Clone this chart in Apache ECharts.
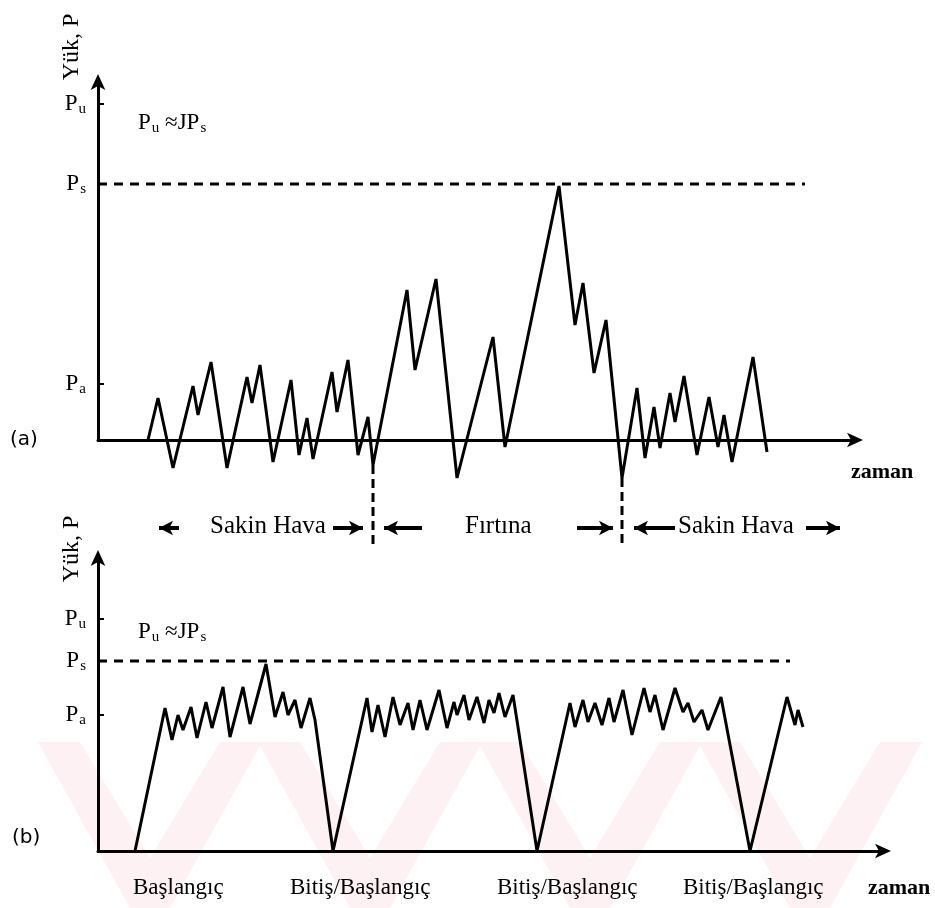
<!DOCTYPE html>
<html><head><meta charset="utf-8">
<script src="https://cdn.jsdelivr.net/npm/echarts@6/dist/echarts.min.js"></script>
<style>html,body{margin:0;padding:0;background:#fff}#c{width:935px;height:908px}</style>
</head><body><div id="c"></div>
<script>
// ---- Panel (a): load history (time, load) in figure units (origin at axes crossing)
const aTime = [50,60,75,95,100,113,129,149,154,162,175,193,201,209,215,234,239,250,260,270,275,309,317,338,359,395,407,461,477,485,496,508,524,539,547,556,562,572,577,586,599,611,620,626,634,655,669];
const aLoad = [0,42,-28,54,25,78,-28,63,37,75,-22,60,-15,22,-19,68,28,80,-15,23,-25,150,70,161,-38,103,-7,254,115,157,67,120,-38,52,-18,33,-8,47,18,64,-15,43,-7,25,-22,83,-12];
// ---- Panel (b): load history
const bTime = [37,67,74,80,85,93,99,108,114,125,132,145,152,168,177,185,190,197,203,212,217,235,269,274,280,287,295,302,310,315,322,329,341,349,356,359,366,371,379,386,391,396,401,407,415,420,439,472,477,485,490,497,504,511,516,525,534,546,552,557,565,577,585,590,596,604,610,623,652,689,697,700,705];
const bLoad = [0,143,111,136,121,144,113,149,123,164,114,164,127,187,134,159,136,151,123,153,131,0,153,119,146,114,154,126,148,121,151,121,161,123,149,136,156,131,154,128,151,138,158,134,156,124,0,148,124,151,129,148,126,153,129,161,116,163,139,156,121,163,139,148,129,141,121,154,0,154,126,141,124];
// ---- Reference levels (P_u, P_s, P_a) for each panel
const aLevels = {Pu: 336, Ps: 256, Pa: 56};
const bLevels = {Pu: 232, Ps: 190, Pa: 136};
// dashed Ps line extent (time)
const aPsEnd = 707, bPsEnd = 692;
// storm boundaries in panel (a): [time, load at trough]
const aBounds = [[275,-25],[524,-38]];
// period annotation arrows in panel (a): [tail, tip]
const aPeriodArrows = [[81,55],[235,271],[324,280],[479,521],[577,530],[708,748]];
const aPeriodLabels = ['Sakin Hava','Fırtına','Sakin Hava'];
const bEventLabels = ['Başlangıç','Bitiş/Başlangıç','Bitiş/Başlangıç','Bitiş/Başlangıç'];

const zip = (x, y) => x.map((v, i) => [v, y[i]]);
const SERIF = '"Liberation Serif","Times New Roman",serif';

function levelFormatter(levels) {
  return function (v) {
    if (v === levels.Pu) return '{p|P}{s|u}';
    if (v === levels.Ps) return '{p|P}{s|s}';
    if (v === levels.Pa) return '{p|P}{s|a}';
    return '';
  };
}
const richP = {
  p: {fontFamily: SERIF, fontSize: 23, color: '#000'},
  s: {fontFamily: SERIF, fontSize: 15, color: '#000', padding: [10, 0, 0, 1]}
};

const axisLine = {show: true, onZero: false, symbol: ['none', 'arrow'], symbolSize: [11, 16], symbolOffset: [0, 6], lineStyle: {color: '#000', width: 3}};

function xAx(idx, max) {
  return {type: 'value', gridIndex: idx, min: 0, max: max, axisLine: axisLine, axisTick: {show: false}, axisLabel: {show: false}, splitLine: {show: false}};
}
function yAx(idx, max, levels) {
  const vals = [levels.Pa, levels.Ps, levels.Pu];
  return {type: 'value', gridIndex: idx, min: 0, max: max,
    axisLine: axisLine,
    axisTick: {show: true, inside: true, length: 6, customValues: vals, lineStyle: {color: '#000', width: 2}},
    axisLabel: {show: true, customValues: vals, margin: 12, formatter: levelFormatter(levels), rich: richP},
    splitLine: {show: false}};
}

const series = [];
const lineBase = {type: 'line', showSymbol: false, clip: false, silent: true, animation: false};
series.push(Object.assign({}, lineBase, {xAxisIndex: 0, yAxisIndex: 0, data: zip(aTime, aLoad), lineStyle: {color: '#000', width: 3}, z: 5}));
series.push(Object.assign({}, lineBase, {xAxisIndex: 0, yAxisIndex: 0, data: [[0, aLevels.Ps], [aPsEnd, aLevels.Ps]], lineStyle: {color: '#000', width: 3, type: [9, 7]}}));
aBounds.forEach(b => {
  series.push(Object.assign({}, lineBase, {xAxisIndex: 0, yAxisIndex: 0, data: [[b[0], b[1]], [b[0], -104]], lineStyle: {color: '#000', width: 3, type: [9, 5]}}));
});
aPeriodArrows.forEach(a => {
  const right = a[1] > a[0];
  series.push(Object.assign({}, lineBase, {xAxisIndex: 0, yAxisIndex: 0, showSymbol: true,
    data: [{value: [a[0], -88], symbol: 'none'}, {value: [a[1] + (right ? -6 : 6), -88], symbol: 'arrow', symbolSize: [11, 14], symbolRotate: right ? -90 : 90, itemStyle: {color: '#000'}}],
    lineStyle: {color: '#000', width: 4}}));
});
series.push(Object.assign({}, lineBase, {xAxisIndex: 1, yAxisIndex: 1, data: zip(bTime, bLoad), lineStyle: {color: '#000', width: 3}, z: 5}));
series.push(Object.assign({}, lineBase, {xAxisIndex: 1, yAxisIndex: 1, data: [[0, bLevels.Ps], [bPsEnd, bLevels.Ps]], lineStyle: {color: '#000', width: 3, type: [9, 7]}}));

function txt(text, x, y, opt) {
  return {type: 'text', x: x, y: y, rotation: (opt && opt.rot) || 0, z: 10, silent: true,
    style: Object.assign({text: text, fill: '#000', font: '24px ' + SERIF, textAlign: 'left', textVerticalAlign: 'middle'}, (opt && opt.style) || {})};
}
const richEq = {
  p: {fontFamily: SERIF, fontSize: 23, color: '#000'},
  s: {fontFamily: SERIF, fontSize: 15, color: '#000', padding: [10, 0, 0, 1]}
};
const graphics = [];
// watermark chevrons (very faint)
[150, 370, 590, 810].forEach(cx => {
  graphics.push({type: 'polygon', z: -10, silent: true, shape: {points: [[cx - 112, 742], [cx - 70, 742], [cx, 858], [cx + 70, 742], [cx + 112, 742], [cx + 20, 908], [cx - 20, 908]]}, style: {fill: '#fef1f3'}});
});
graphics.push(txt('Yük, P', 72, 47, {rot: Math.PI / 2, style: {textAlign: 'center'}}));
graphics.push(txt('Yük, P', 72, 549, {rot: Math.PI / 2, style: {textAlign: 'center'}}));
graphics.push(txt('{p|P}{s|u}{p| ≈JP}{s|s}', 138, 123, {style: {rich: richEq}}));
graphics.push(txt('{p|P}{s|u}{p| ≈JP}{s|s}', 138, 632, {style: {rich: richEq}}));
graphics.push(txt('(a)', 10, 440, {style: {font: '20px "DejaVu Sans",sans-serif'}}));
graphics.push(txt('(b)', 12, 838, {style: {font: '20px "DejaVu Sans",sans-serif'}}));
graphics.push(txt('zaman', 851, 472, {style: {font: 'bold 22px ' + SERIF}}));
graphics.push(txt(aPeriodLabels[0], 210, 526, {style: {font: '25px ' + SERIF}}));
graphics.push(txt(aPeriodLabels[1], 465, 526, {style: {font: '25px ' + SERIF}}));
graphics.push(txt(aPeriodLabels[2], 678, 526, {style: {font: '25px ' + SERIF}}));
const bLabelX = [133, 290, 497, 683];
bEventLabels.forEach((t, i) => graphics.push(txt(t, bLabelX[i], 888, {style: {font: '23px ' + SERIF}})));
graphics.push(txt('zaman', 868, 888, {style: {font: 'bold 22px ' + SERIF}}));

const chart = echarts.init(document.getElementById('c'), null, {renderer: 'canvas'});
chart.setOption({
  backgroundColor: '#fff',
  animation: false,
  grid: [
    {left: 98, top: 80, width: 759, height: 360},
    {left: 98, top: 556, width: 787, height: 295}
  ],
  xAxis: [xAx(0, 759), xAx(1, 787)],
  yAxis: [yAx(0, 360, aLevels), yAx(1, 295, bLevels)],
  series: series,
  graphic: graphics
});
</script></body></html>
